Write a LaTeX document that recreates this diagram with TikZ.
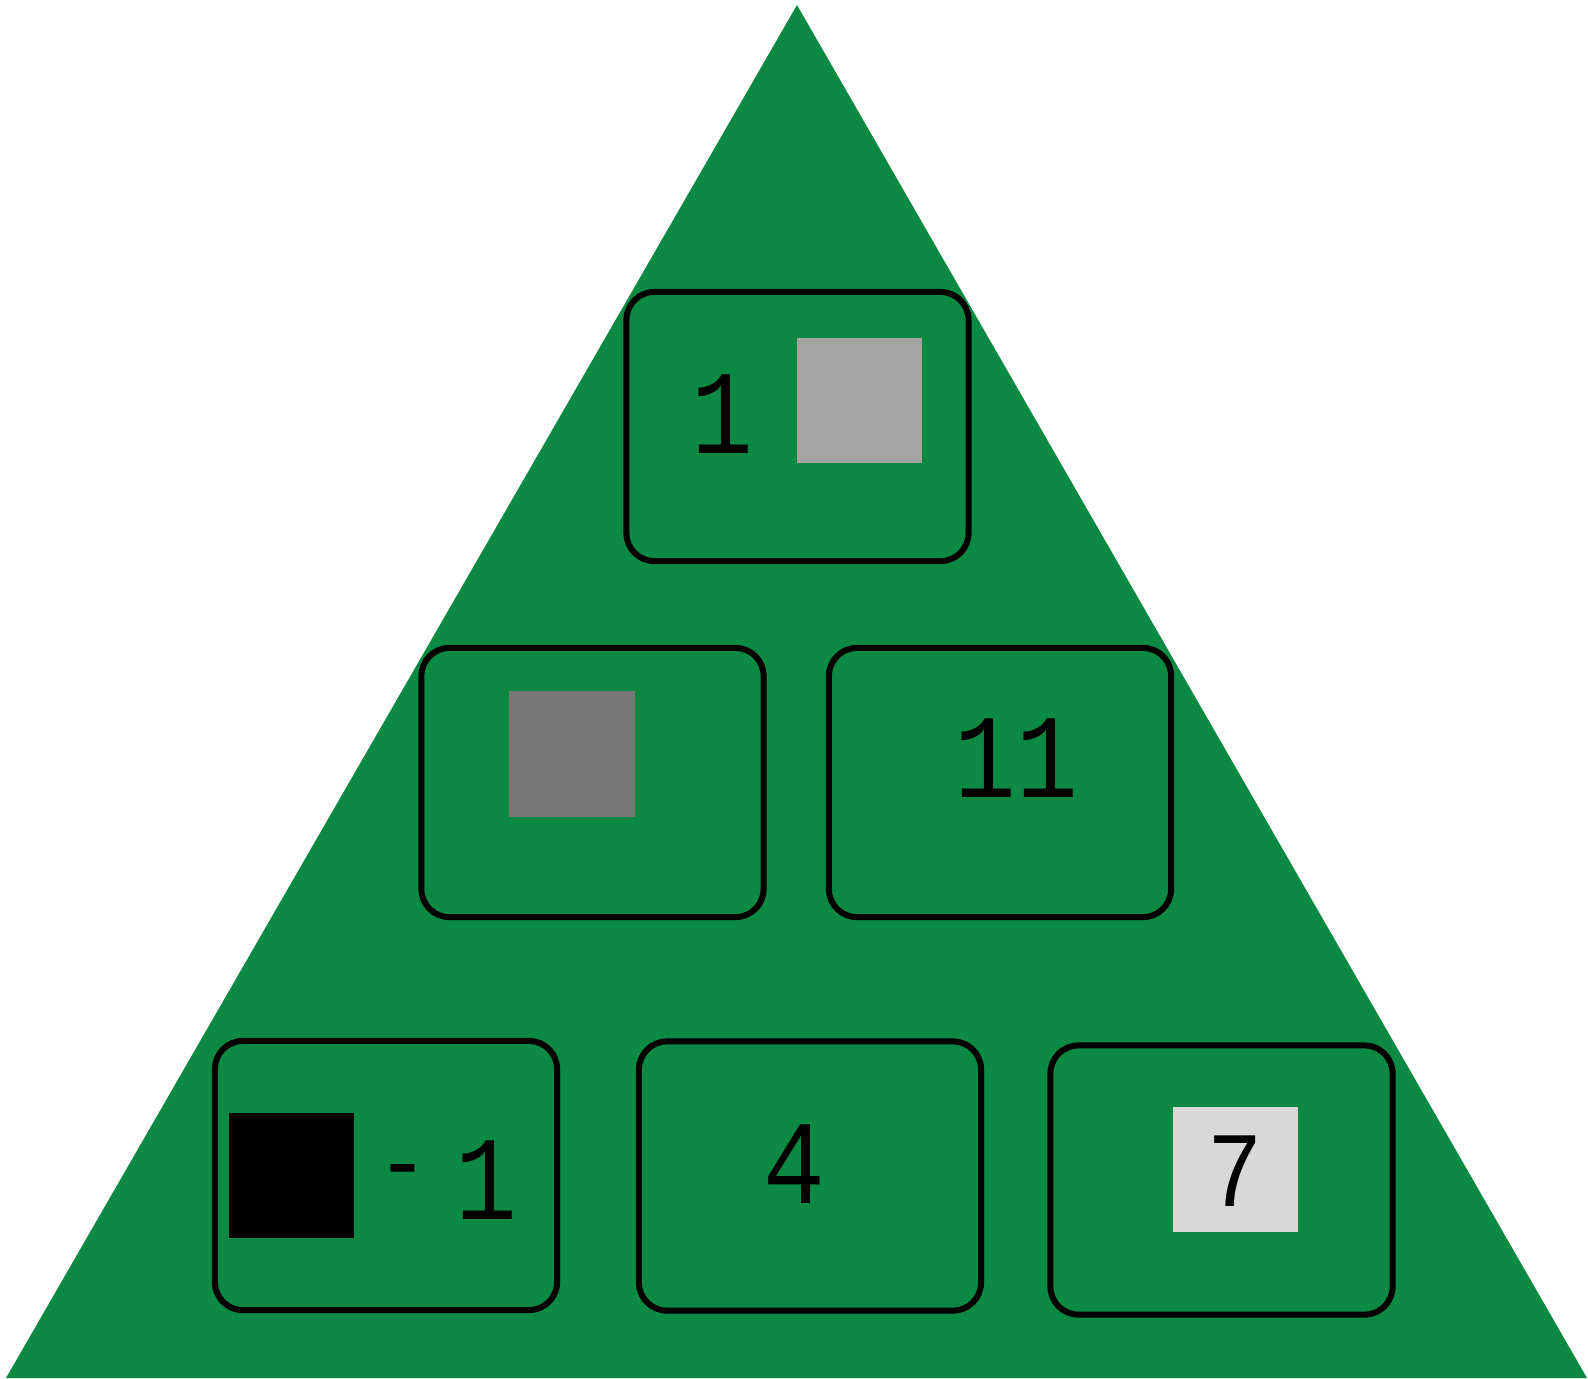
\documentclass[tikz,border=0pt]{standalone}
\usepackage{fontspec}
\newfontfamily\digitfont[FakeStretch=0.86]{Liberation Mono}
\newfontfamily\dashfont{Liberation Sans}
\usetikzlibrary{positioning}

\definecolor{pyramidgreen}{HTML}{0C8A43}
\definecolor{tilelight}{HTML}{D8D8D8}
\definecolor{tilemid}{HTML}{A4A4A4}
\definecolor{tiledark}{HTML}{787878}

\tikzset{
    card/.style={draw=black, line width=0.06cm, rounded corners=0.28cm,
        minimum width=3.42cm, minimum height=2.69cm, inner sep=0pt},
    tile/.style={minimum size=1.25cm, inner sep=0pt},
    num/.style={font=\digitfont\fontsize{34}{40}\selectfont, anchor=base, inner sep=0pt},
    dash sign/.style={font=\dashfont\fontsize{28}{34}\selectfont, anchor=base, inner sep=0pt}
}

\begin{document}
\begin{tikzpicture}[x=0.01cm, y=-0.01cm]

    \useasboundingbox (0,0) rectangle (1588,1378);

    % the pyramid
    \coordinate (apex) at (797,5);
    \coordinate (baseL) at (6,1378);
    \coordinate (baseR) at (1587,1378);
    \fill[pyramidgreen] (baseL) -- (apex) -- (baseR) -- cycle;

    % cards, row by row
    \foreach \name/\x/\y in {top/797.5/426.5,
                             midL/592.5/782.5, midR/1000/782.5,
                             botL/386/1175.5, botM/810/1176, botR/1221.5/1180} {
        \node[card] (\name) at (\x,\y) {};
    }

    % grey tiles
    \node[tile, fill=tilemid]   (tileTop)  at (859.5,400.5) {};
    \node[tile, fill=tiledark]  (tileMidL) at (572,754) {};
    \node[tile, fill=black]     (tileBotL) at (291.5,1175.5) {};
    \node[tile, fill=tilelight] (tileBotR) at (1235.5,1169.5) {};

    % numbers
    \node[num] (numTop)    at (722.5,453)  {1};
    \node[num] (numMidR)   at (1016,797)   {11};
    \node[dash sign] (minusBotL) at (402.5,1194) {-};
    \node[num] (numBotL)   at (486.5,1219) {1};
    \node[num] (numBotM)   at (794,1203)   {4};
    \node[num, font=\digitfont\fontsize{30.5}{36}\selectfont] (numBotR) at (1235.5,1206) {7};

\end{tikzpicture}
\end{document}
